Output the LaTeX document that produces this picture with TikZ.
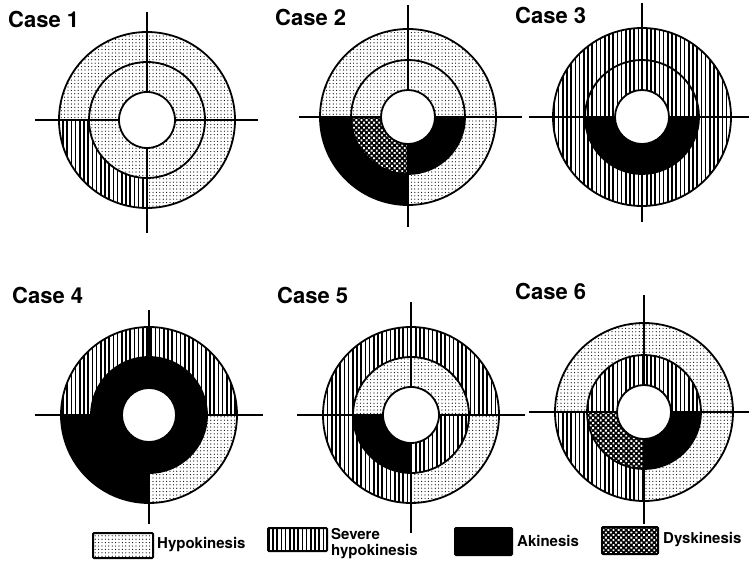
\documentclass[tikz,border=0pt]{standalone}
\usepackage{fontspec}
\setmainfont{TeX Gyre Heros}
\usetikzlibrary{patterns.meta}
\tikzset{
 hy/.style={pattern={Dots[radius=0.6pt,distance=3.4pt]},pattern color=black},
 sv/.style={pattern={Lines[angle=90,distance=4.2pt,line width=1.5pt]},pattern color=black},
 ak/.style={fill=black},
 dy/.style={fill=black,postaction={pattern={Dots[radius=1.35pt,distance=3.6pt,angle=45]},pattern color=white}},
 ring/.style={line width=1.8pt},
 axisline/.style={line width=2.5pt},
 lab/.style={font=\fontsize{22}{22}\selectfont\bfseries, anchor=base west, inner sep=0pt},
 leg/.style={font=\fontsize{15}{16}\selectfont\bfseries, anchor=west, inner sep=0pt, align=left},
 legbox/.style={line width=2pt, rounded corners=1pt}
}
% quarter annular sector: center, start angle, outer R, inner r, style
\newcommand\qsec[5]{%
 \path[#5] ([shift={(#2:#3)}]#1) arc[start angle=#2, delta angle=90, radius=#3]
   -- ([shift={(#2+90:#4)}]#1) arc[start angle=#2+90, delta angle=-90, radius=#4] -- cycle;}
% outer ring: center, R, r, r0, UR,UL,LL,LR styles
\newcommand\bullouter[8]{%
 \qsec{#1}{0}{#2}{#3}{#5}\qsec{#1}{90}{#2}{#3}{#6}\qsec{#1}{180}{#2}{#3}{#7}\qsec{#1}{270}{#2}{#3}{#8}}
% inner ring: center, r, r0, UR,UL,LL,LR
\newcommand\bullinner[7]{%
 \qsec{#1}{0}{#2}{#3}{#4}\qsec{#1}{90}{#2}{#3}{#5}\qsec{#1}{180}{#2}{#3}{#6}\qsec{#1}{270}{#2}{#3}{#7}}
\newcommand\bullrings[4]{%
 \draw[ring] (#1) circle[radius=#2];
 \draw[ring] (#1) circle[radius=#3];
 \draw[ring, fill=white] (#1) circle[radius=#4];}
% cross: center, r0, left x, right x, top y, bottom y
\newcommand\bullcross[6]{%
 \draw[axisline] (#3,0 |- #1) -- ([xshift=-#2pt]#1);
 \draw[axisline] ([xshift=#2pt]#1) -- (#4,0 |- #1);
 \draw[axisline] (#1 |- 0,#5) -- ([yshift=#2pt]#1);
 \draw[axisline] ([yshift=-#2pt]#1) -- (#1 |- 0,#6);}
\begin{document}
\begin{tikzpicture}[x=1pt,y=1pt]
\useasboundingbox (0,0) rectangle (749,563);
\fill[white] (0,0) rectangle (749,563);

% centers
\coordinate (c1) at (147,443);
\coordinate (c2) at (408,446);
\coordinate (c3) at (642,446);
\coordinate (c4) at (149,148);
\coordinate (c5) at (411,148);
\coordinate (c6) at (644,151);

% Case 1
\bullouter{c1}{88}{58}{28}{hy}{hy}{sv}{hy}
\bullinner{c1}{58}{28}{hy}{hy}{hy}{hy}
\bullrings{c1}{88}{58}{28}
\bullcross{c1}{28}{35}{258}{551}{330}
\node[lab] (t1) at (8,535) {Case 1};

% Case 2
\bullouter{c2}{88}{57}{27}{hy}{hy}{ak}{hy}
\bullinner{c2}{57}{27}{hy}{hy}{dy}{ak}
\bullrings{c2}{88}{57}{27}
\bullcross{c2}{27}{299}{522}{558}{336}
\node[lab] (t2) at (275,537) {Case 2};

% Case 3
\bullouter{c3}{89}{57}{27}{sv}{sv}{sv}{sv}
\bullinner{c3}{57}{27}{sv}{sv}{ak}{ak}
\bullrings{c3}{89}{57}{27}
\bullcross{c3}{27}{529}{749}{560}{341}
\node[lab] (t3) at (515,539) {Case 3};

% Case 4
\bullouter{c4}{88}{58}{27}{sv}{sv}{ak}{hy}
\bullinner{c4}{58}{27}{ak}{ak}{ak}{ak}
\bullrings{c4}{88}{58}{27}
\bullcross{c4}{27}{35}{263}{253}{39}
\node[lab] (t4) at (12,260) {Case 4};

% Case 5
\bullouter{c5}{88}{58}{28}{sv}{sv}{sv}{hy}
\bullinner{c5}{58}{28}{hy}{hy}{ak}{sv}
\bullrings{c5}{88}{58}{28}
\bullcross{c5}{28}{297}{525}{261}{30}
\node[lab] (t5) at (277,260) {Case 5};

% Case 6
\bullouter{c6}{89}{57}{27}{hy}{hy}{sv}{hy}
\bullinner{c6}{57}{27}{sv}{sv}{dy}{ak}
\bullrings{c6}{89}{57}{27}
\bullcross{c6}{27}{529}{749}{268}{39}
\node[lab] (t6) at (515,264) {Case 6};

% Legend
\path[hy] (93,5) rectangle (153,30);
\draw[legbox] (93,5) rectangle (153,30);
\node[leg] (l1) at (157,18) {Hypokinesis};

\path[sv] (268,12) rectangle (327,35);
\draw[legbox] (268,12) rectangle (327,35);
\node[leg] (l2) at (331,19) {Severe\\hypokinesis};

\path[ak] (455,8) rectangle (512,35);
\draw[legbox] (455,8) rectangle (512,35);
\node[leg] (l3) at (517,22) {Akinesis};

\path[dy] (602,9) rectangle (658,36);
\draw[legbox] (602,9) rectangle (658,36);
\node[leg] (l4) at (663,23) {Dyskinesis};
\end{tikzpicture}
\end{document}
